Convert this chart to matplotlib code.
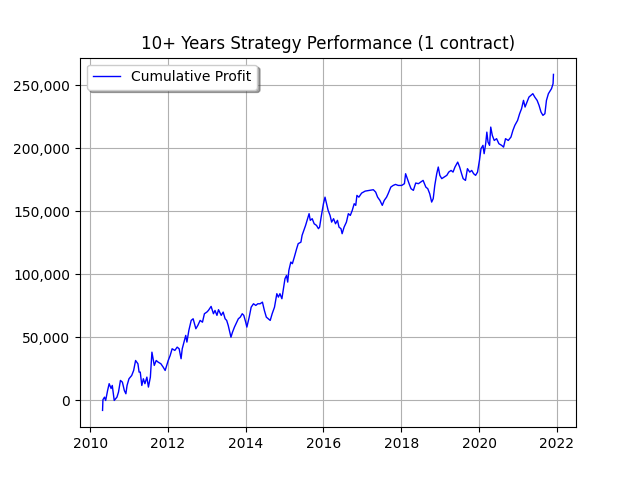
import numpy as np
import pandas as pd
import matplotlib
matplotlib.use('Agg')
import matplotlib.pyplot as plt
from matplotlib.ticker import FuncFormatter

# decimal year of each traced point
years = [
    2010.32, 2010.33, 2010.37, 2010.40, 2010.45, 2010.49, 2010.54, 2010.57, 2010.62, 2010.69,
    2010.73, 2010.78, 2010.83, 2010.88, 2010.92, 2010.95, 2011.00, 2011.07, 2011.12, 2011.17,
    2011.23, 2011.26, 2011.29, 2011.33, 2011.37, 2011.41, 2011.46, 2011.50, 2011.55, 2011.59,
    2011.62, 2011.65, 2011.70, 2011.75, 2011.82, 2011.88, 2011.93, 2011.97, 2012.01, 2012.06,
    2012.11, 2012.18, 2012.24, 2012.29, 2012.34, 2012.37, 2012.46, 2012.49, 2012.54, 2012.60,
    2012.65, 2012.72, 2012.77, 2012.83, 2012.89, 2012.94, 2013.00, 2013.04, 2013.11, 2013.17,
    2013.21, 2013.26, 2013.30, 2013.37, 2013.42, 2013.47, 2013.51, 2013.55, 2013.59, 2013.62,
    2013.66, 2013.71, 2013.77, 2013.81, 2013.86, 2013.91, 2013.95, 2014.00, 2014.03, 2014.09,
    2014.14, 2014.20, 2014.26, 2014.31, 2014.37, 2014.43, 2014.48, 2014.53, 2014.58, 2014.63,
    2014.68, 2014.74, 2014.80, 2014.84, 2014.88, 2014.93, 2014.97, 2015.01, 2015.05, 2015.08,
    2015.11, 2015.16, 2015.20, 2015.25, 2015.31, 2015.35, 2015.42, 2015.45, 2015.51, 2015.54,
    2015.59, 2015.63, 2015.66, 2015.71, 2015.76, 2015.82, 2015.87, 2015.90, 2015.94, 2015.97,
    2016.00, 2016.04, 2016.08, 2016.12, 2016.17, 2016.21, 2016.26, 2016.31, 2016.36, 2016.40,
    2016.45, 2016.48, 2016.53, 2016.59, 2016.64, 2016.69, 2016.74, 2016.79, 2016.83, 2016.86,
    2016.91, 2016.98, 2017.07, 2017.19, 2017.28, 2017.34, 2017.39, 2017.45, 2017.51, 2017.56,
    2017.62, 2017.66, 2017.73, 2017.79, 2017.85, 2017.92, 2018.01, 2018.08, 2018.11, 2018.14,
    2018.20, 2018.25, 2018.31, 2018.37, 2018.44, 2018.50, 2018.56, 2018.63, 2018.68, 2018.73,
    2018.78, 2018.82, 2018.86, 2018.91, 2018.95, 2018.99, 2019.04, 2019.10, 2019.17, 2019.22,
    2019.28, 2019.33, 2019.38, 2019.45, 2019.50, 2019.55, 2019.59, 2019.65, 2019.70, 2019.76,
    2019.81, 2019.86, 2019.91, 2019.96, 2020.01, 2020.05, 2020.10, 2020.13, 2020.17, 2020.20,
    2020.23, 2020.27, 2020.30, 2020.34, 2020.39, 2020.45, 2020.51, 2020.58, 2020.63, 2020.68,
    2020.75, 2020.82, 2020.87, 2020.92, 2020.99, 2021.04, 2021.09, 2021.14, 2021.18, 2021.23,
    2021.28, 2021.33, 2021.38, 2021.43, 2021.49, 2021.54, 2021.59, 2021.64, 2021.69, 2021.73,
    2021.78, 2021.83, 2021.86, 2021.90, 2021.91,
]

profit = [
    -7900, 600, 2600, 0, 7900, 13300, 9500, 11900, 0, 2600,
    6600, 15900, 14500, 7900, 5300, 11900, 17200, 19800, 23800, 31700,
    29100, 22500, 22500, 11900, 17200, 13300, 18500, 10600, 18500, 38300,
    33100, 27800, 31700, 30400, 29100, 26400, 23800, 27800, 31700, 35700,
    41000, 39700, 42300, 41000, 33100, 41000, 51600, 46300, 55600, 63500,
    64800, 56900, 59500, 63500, 62100, 68800, 70100, 71400, 74600, 68800,
    71400, 67500, 72000, 67500, 70100, 64800, 63500, 59500, 54200, 50200,
    54200, 58200, 62100, 64800, 66100, 68800, 67500, 62100, 58200, 66100,
    74000, 76700, 75400, 76700, 76700, 78000, 71400, 66100, 64800, 63500,
    68800, 74000, 84700, 82000, 84700, 80700, 88600, 96600, 99200, 93900,
    103200, 109800, 108500, 113700, 120400, 124400, 125600, 131000, 136300, 138900,
    144200, 148200, 142900, 144200, 140200, 138900, 136300, 137500, 145500, 150800,
    156100, 161300, 156100, 150800, 146800, 141500, 144200, 140200, 142900, 137500,
    136300, 132300, 137500, 141500, 148200, 146800, 150800, 156100, 154800, 162700,
    161300, 164500, 166100, 166700, 167200, 165300, 161300, 158700, 154800, 158700,
    161300, 164000, 169300, 170600, 171400, 170600, 170600, 172000, 179900, 177200,
    172000, 168000, 166700, 172500, 172000, 173300, 174600, 169300, 168000, 164000,
    157400, 160100, 170600, 179900, 185200, 178600, 176000, 177200, 178600, 181200,
    182500, 181200, 185200, 189100, 185200, 179900, 176000, 174600, 183900, 181200,
    182500, 179900, 178600, 181200, 190500, 199800, 202400, 195800, 203700, 212900,
    205000, 202400, 216900, 210300, 206300, 207700, 203700, 202400, 201000, 207700,
    206300, 209000, 214300, 218300, 222200, 227500, 231500, 238100, 232800, 236700,
    240700, 242100, 243400, 240700, 238100, 234100, 228800, 226200, 227500, 238100,
    243400, 246000, 247400, 251300, 258700,
]


def to_date(y):
    yr = int(y)
    return pd.Timestamp(yr, 1, 1) + pd.Timedelta(days=(y - yr) * 365.25)


dates = [to_date(y) for y in years]

fig, ax = plt.subplots(figsize=(6.4, 4.8), dpi=100)
ax.plot(dates, profit, color='blue', linewidth=1, label='Cumulative Profit')
ax.set_title('10+ Years Strategy Performance (1 contract)')
ax.yaxis.set_major_formatter(FuncFormatter(lambda v, p: '{:,.0f}'.format(v)))
ax.grid(True)
ax.legend(loc='upper left', shadow=True)
fig.savefig('out.png')
